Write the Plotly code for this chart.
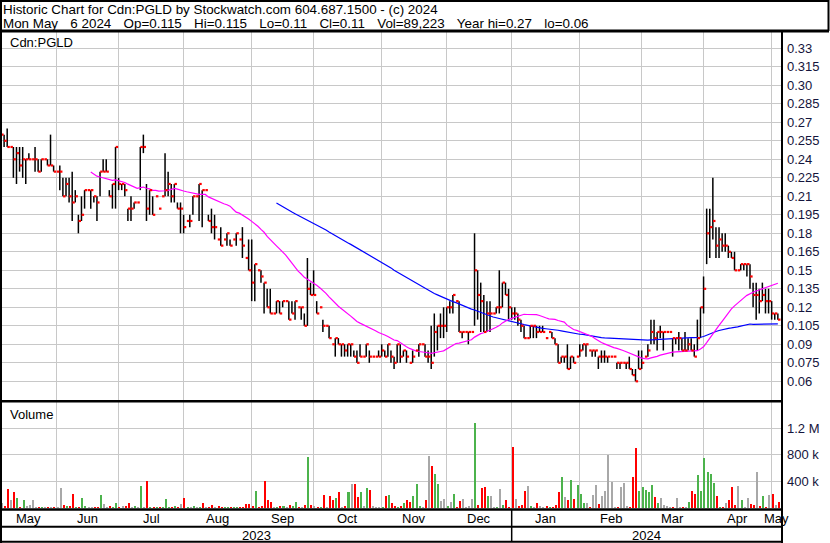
import plotly.graph_objects as go
import pandas as pd

# ---------------- data ----------------
highs = [
 .27,.26,.265,.25,.25,.25,.25,.25,.24,.245, .24,.25,.24,.24,.24,.24,.26,.235,.23,.235,
 .225,.225,.225,.23,.215,.195,.21,.215,.215,.215, .21,.21,.23,.24,.24,.215,.22,.25,.225,.22,
 .22,.20,.21,.205,.205,.25,.26,.22,.215,.21, .21,.20,.21,.245,.23,.22,.22,.205,.205,.195,
 .19,.195,.21,.21,.22,.215,.215,.195,.20,.195, .175,.185,.175,.18,
 .175,.175,.18,.175,.185,.16,.175,.175,.155,.15, .15,.14,.135,.135,.115,.125,.125,.125,.125,.125,
 .125,.125,.12,.12,.115,.16,.14,.15,.125,.12, .11,.105,.105,.09,.095,.095,.09,.09,.09,.09,
 .085,.085,.09,.08,.09,.085,.08,.08,.085,.09, .085,.09,.085,.08,.09,.09,.085,.085,.075,.085,
 .085,.09,.09,.09,.085,.105,.115,.105,.115,.12, .12,.125,.13,.125,.125,.10,.10,.10,.10,.18,
 .15,.14,.13,.125,.125,.115,.12,.15,.14,.14, .135,.12,.12,.115,.11,.105,.095,.105,.105,.105,
 .105,.105,.095,.10,.10,.095,.09,.08,.08,.09, .08,.08,.08,.09,.09,.09,.085,.085,.085,.08,
 .085,.085,.08,.08,.08,.075,.075,.075,.075,.08, .07,.07,.085,
 .085,.08,.09,.11,.11,.10,.105,.10,.10,.10, .095,.095,.10,.095,.10,.095,.095,.09,.11,.12,
 .145,.20,.20,.225,.185,.185,.18,.18,.17,.165, .165,.15,.155,.155,.155,.155,.14,.14,.135,.14,
 .135,.135,.125,.115,.115]
lows = [
 .24,.25,.25,.25,.225,.22,.23,.225,.22,.24, .24,.23,.23,.23,.24,.235,.235,.23,.23,.215,
 .21,.21,.205,.19,.205,.18,.19,.20,.215,.20, .205,.19,.21,.23,.23,.21,.20,.20,.215,.215,
 .21,.19,.19,.20,.205,.215,.245,.19,.195,.195, .21,.20,.21,.21,.21,.205,.205,.20,.18,.18,
 .19,.185,.195,.21,.19,.185,.215,.19,.18,.175, .175,.17,.175,.17,
 .17,.175,.17,.175,.16,.16,.15,.125,.125,.15, .14,.115,.12,.115,.115,.115,.115,.12,.125,.11,
 .115,.11,.12,.11,.105,.105,.13,.13,.115,.12, .10,.105,.095,.09,.08,.09,.08,.08,.08,.08,
 .08,.075,.08,.08,.08,.075,.08,.08,.08,.08, .08,.08,.075,.07,.075,.075,.08,.075,.075,.075,
 .085,.08,.09,.08,.075,.07,.08,.085,.095,.095, .10,.115,.115,.125,.10,.095,.10,.09,.10,.105,
 .11,.10,.10,.10,.10,.115,.115,.115,.12,.13, .11,.11,.11,.105,.10,.095,.095,.095,.095,.095,
 .10,.10,.095,.10,.095,.09,.075,.075,.075,.07, .07,.075,.08,.08,.085,.08,.085,.08,.08,.07,
 .075,.075,.075,.08,.08,.07,.07,.075,.07,.07, .065,.06,.07,
 .07,.08,.08,.09,.09,.085,.095,.085,.10,.10, .08,.09,.085,.085,.085,.085,.085,.08,.085,.095,
 .115,.155,.16,.175,.16,.16,.165,.165,.16,.16, .15,.15,.15,.15,.145,.135,.12,.11,.115,.125,
 .115,.115,.11,.11,.11]
closes = [
 .26,.255,.25,.25,.24,.245,.235,.24,.24,.24, .24,.24,.23,.24,.24,.235,.235,.23,.23,.23,
 .21,.22,.21,.205,.21,.19,.195,.215,.215,.215, .21,.205,.23,.23,.23,.21,.22,.25,.22,.22,
 .215,.20,.20,.205,.205,.25,.25,.20,.215,.195, .21,.20,.21,.215,.22,.21,.22,.20,.20,.185,
 .19,.19,.21,.21,.22,.215,.215,.19,.185,.185, .175,.17,.175,.18,
 .17,.175,.18,.175,.17,.16,.15,.14,.155,.15, .145,.14,.12,.115,.115,.125,.115,.125,.125,.11,
 .115,.125,.12,.12,.105,.135,.13,.13,.115,.12, .105,.105,.095,.09,.095,.09,.09,.085,.09,.09,
 .08,.075,.08,.08,.09,.08,.08,.08,.08,.085, .08,.09,.08,.075,.09,.08,.085,.08,.075,.08,
 .085,.09,.09,.08,.08,.075,.10,.105,.105,.105, .12,.12,.13,.125,.10,.10,.10,.10,.10,.15,
 .13,.125,.10,.115,.115,.115,.12,.12,.14,.13, .12,.115,.115,.11,.105,.095,.095,.105,.105,.10,
 .10,.10,.095,.10,.095,.09,.075,.08,.08,.07, .08,.075,.08,.085,.09,.09,.085,.085,.085,.08,
 .08,.08,.08,.08,.08,.075,.075,.075,.075,.07, .065,.06,.07,
 .075,.08,.085,.10,.095,.10,.10,.10,.10,.10, .095,.095,.095,.085,.085,.09,.085,.08,.095,.12,
 .135,.18,.185,.19,.17,.175,.17,.17,.165,.16, .15,.15,.155,.155,.155,.145,.13,.13,.125,.13,
 .125,.125,.115,.115,.11]
volume_k = [
 82,36,282,113,236,144,10,113,20,51, 113,5,10,3,5,5,5,5,10,
 297,51,36,36,205,3,3,144,20,3, 3,10,5,190,67,10,20,5,82,5,
 36,36,82,10,20,5,328,10,405, 5,3,3,3,3,128,3,5,20,5,
 67,144,3,10,20,3,10,82,3,5, 51,5,20,5,10,5,5,3,5,3,
 3,67,67,36,251,3,36,405,113, 97,10,3,20,36,3,51,20,97,5,
 3,51,759,51,20,3,10,190, 3,174,113,144,236,5,36,236,359,
 359,159,236,20,297,267,20,5,5,5, 174,190,82,36,5,
 36,72,118,87,174,364,25,3,118, 774,626,503,359,103,128,20,87,205,5,
 103,128,5,36,128,1270,51,297,313,174, 174,3,3,282,51,113,3,913,128,36,
 51,251,328,36,3,82,36,10,36,10, 5,51,236,467,159,113,420,128,344,205,
 82,82,10,190,344,67,174,251,790,390, 10,3,313,374,36,3,467,897,251,313,
 267,236,344,159,82,144,51,20, 10,5,144,10,10,10,97,251,205,497,
 251,744,543,513,374,174,10,10,82,113, 313,51,328,113,10,144,67,51,543,
 36,174,3,190,205,51,89]

month_names = ["May", "Jun", "Jul", "Aug", "Sep", "Oct", "Nov", "Dec",
               "Jan", "Feb", "Mar", "Apr", "May"]
month_first_bar = [18, 38, 59, 81, 101, 123, 144, 165, 187, 207, 227, 249]
year_names = ["2023", "2024"]
price_ticks = [0.06, 0.075, 0.09, 0.105, 0.12, 0.135, 0.15, 0.165, 0.18, 0.195,
               0.21, 0.225, 0.24, 0.255, 0.27, 0.285, 0.30, 0.315, 0.33]
price_tick_text = ["0.06", "0.075", "0.09", "0.105", "0.12", "0.135", "0.15", "0.165",
                   "0.18", "0.195", "0.21", "0.225", "0.24", "0.255", "0.27", "0.285",
                   "0.30", "0.315", "0.33"]
vol_ticks = [400000, 800000, 1200000]
vol_tick_text = ["400 k", "800 k", "1.2 M"]
header1 = "Historic Chart for Cdn:PGLD by Stockwatch.com 604.687.1500 - (c) 2024"
header2 = ("Mon May  6 2024  Op=0.115  Hi=0.115  Lo=0.11  Cl=0.11  Vol=89,223  "
           "Year hi=0.27  lo=0.06")

# ---------------- helpers ----------------
W, H = 830, 543
FONT = "Liberation Sans, Arial, sans-serif"
def px(x): return x / W
def py(y): return 1 - y / H

n = len(closes)
idx = list(range(n))
volume = [v * 1000 for v in volume_k]
close_s = pd.Series(closes)
ma30 = close_s.rolling(30).mean()
ma90 = close_s.rolling(90).mean()

vol_colors = []
for i in idx:
    if i == 0 or closes[i] == closes[i - 1]:
        vol_colors.append("#a8a8a8")
    elif closes[i] > closes[i - 1]:
        vol_colors.append("#4cb34c")
    else:
        vol_colors.append("#ff0000")

hl_x, hl_y = [], []
for i in idx:
    hl_x += [i, i, None]
    hl_y += [lows[i], highs[i], None]
ck_x, ck_y = [], []
for i in idx:
    ck_x += [i + 0.05, i + 0.85, None]
    ck_y += [closes[i], closes[i], None]

fig = go.Figure()
fig.add_trace(go.Scatter(x=hl_x, y=hl_y, mode="lines", line=dict(color="black", width=1.5),
                         hoverinfo="skip", showlegend=False))
fig.add_trace(go.Scatter(x=idx, y=ma90, mode="lines", line=dict(color="#0000ff", width=1.2),
                         showlegend=False))
fig.add_trace(go.Scatter(x=idx, y=ma30, mode="lines", line=dict(color="#ff00ff", width=1.2),
                         showlegend=False))
fig.add_trace(go.Scatter(x=ck_x, y=ck_y, mode="lines", line=dict(color="#ff0000", width=2.2),
                         hoverinfo="skip", showlegend=False))
fig.add_trace(go.Bar(x=idx, y=volume, marker=dict(color=vol_colors, line=dict(width=0)),
                     width=0.65, offset=-0.05, xaxis="x2", yaxis="y2", showlegend=False))

PX_PER_BAR = 3.095
xr = [(2 - 1) / PX_PER_BAR, (781 - 1) / PX_PER_BAR]
def price_at(y):
    return 0.27 - (y - 122.3) * 0.015 / 18.5

grid = "#c8c8c8"
tickfont = dict(family=FONT, size=13, color="#14143c")
common_x = dict(domain=[px(2), px(781)], range=xr, tickvals=month_first_bar,
                showticklabels=False, showgrid=True, gridcolor=grid, gridwidth=1,
                zeroline=False, showline=False, ticks="")
fig.update_layout(
    width=W, height=H, margin=dict(l=0, r=0, t=0, b=0),
    paper_bgcolor="white", plot_bgcolor="white", bargap=0,
    xaxis=dict(**common_x, anchor="y"),
    xaxis2=dict(**common_x, anchor="y2", matches="x"),
    yaxis=dict(domain=[py(400), py(32)], range=[price_at(400), price_at(32)],
               side="right", tickvals=price_ticks, ticktext=price_tick_text,
               showgrid=True, gridcolor=grid, zeroline=False, showline=False,
               ticks="", ticklabelstandoff=5, tickfont=tickfont, anchor="x"),
    yaxis2=dict(domain=[py(508), py(402)], range=[0, 1.59e6],
                side="right", tickvals=vol_ticks, ticktext=vol_tick_text,
                showgrid=True, gridcolor=grid, zeroline=False, showline=False,
                ticks="", ticklabelstandoff=5, tickfont=tickfont, anchor="x2"),
)

ann = []
def txt(x, y, s, anchor="left", xref="paper", size=13, color="#000000"):
    s = s.replace("  ", "\u00a0\u00a0\u00a0\u200a").replace(" ", "\u00a0")
    ann.append(dict(x=x, y=y, xref=xref, yref="paper", text=s,
                    showarrow=False, xanchor=anchor, yanchor="middle",
                    font=dict(family=FONT, size=size, color=color)))
txt(px(1), py(9.5), header1, size=13.4)
txt(px(1), py(23.5), header2, size=13.4)
txt(px(8), py(42.5), "Cdn:PGLD")
txt(px(8), py(414), "Volume")
bounds = [0] + month_first_bar + [n]
for k, name in enumerate(month_names):
    txt((bounds[k] + bounds[k + 1]) / 2, py(518.5), name, anchor="center", xref="x")
jan = month_first_bar[7]
txt((0 + jan) / 2, py(535), year_names[0], anchor="center", xref="x")
txt((jan + xr[1]) / 2, py(535), year_names[1], anchor="center", xref="x")
fig.update_layout(annotations=ann)

shapes = []
def line(x0, y0, x1, y1, w=2):
    shapes.append(dict(type="line", xref="paper", yref="paper", x0=px(x0), y0=py(y0),
                       x1=px(x1), y1=py(y1), line=dict(color="black", width=w)))
line(0, 1, 829, 1, 2)          # header top
line(0, 31, 829, 31, 3)        # header bottom
line(828.5, 0, 828.5, 31, 2)   # header right
line(1, 0, 1, 543, 2)          # left border
line(782, 31, 782, 543, 2)     # panel right border
line(0, 401.3, 782, 401.3, 2.5)  # price / volume divider
line(0, 509.5, 782, 509.5, 2.3)  # volume bottom
line(0, 526.7, 782, 526.7, 2)    # month / year divider
line(0, 541.8, 782, 541.8, 2)    # bottom
shapes.append(dict(type="line", xref="x", yref="paper", x0=jan, x1=jan,
                   y0=py(509.5), y1=py(541.8), line=dict(color="black", width=1.5)))
fig.update_layout(shapes=shapes)

fig.write_html("out.html", config={"displayModeBar": False},
               post_script="document.body.style.margin='0';"
                           "document.body.style.overflow='hidden';")
